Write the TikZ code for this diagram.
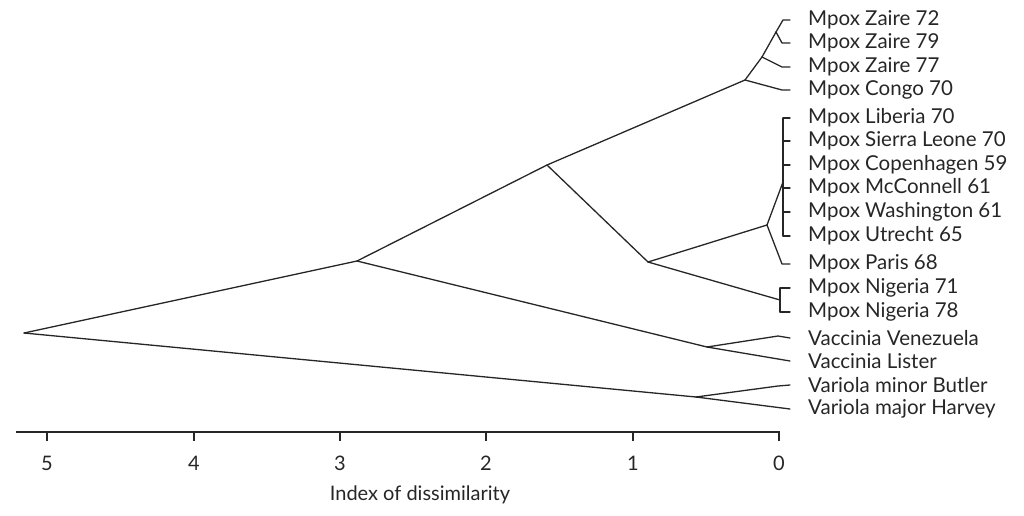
\documentclass[tikz,border=0pt]{standalone}
\usepackage{fontspec}
\setmainfont{Lato}
\begin{document}
\begin{tikzpicture}[x=1pt,y=-1pt,
  br/.style={line width=1.3pt, draw=black!85, line join=round, line cap=round},
  leaf/.style={anchor=west, font=\fontsize{20.5}{22}\selectfont, inner sep=0pt, text=black!85},
  ticklab/.style={font=\fontsize{20}{22}\selectfont, text=black!85, inner sep=0pt}]
\useasboundingbox (0,0) rectangle (1024,515);
% leaves
\foreach \n/\y/\t in {1/20/Mpox Zaire 72, 2/43/Mpox Zaire 79, 3/67/Mpox Zaire 77, 4/90/Mpox Congo 70,
  5/118/Mpox Liberia 70, 6/141/Mpox Sierra Leone 70, 7/165/Mpox Copenhagen 59, 8/188/Mpox McConnell 61,
  9/212/Mpox Washington 61, 10/236/Mpox Utrecht 65, 11/264/Mpox Paris 68, 12/288/Mpox Nigeria 71,
  13/312/Mpox Nigeria 78, 14/338/Vaccinia Venezuela, 15/361/Vaccinia Lister, 16/385/Variola minor Butler,
  17/409/Variola major Harvey}{
  \node[leaf] (l\n) at (808,\y) {\t};
  \coordinate (e\n) at (790,\y);
  \coordinate (k\n) at (782,\y);
}
% branch points
\coordinate (root) at (24,333);
\coordinate (A) at (357,261);
\coordinate (V) at (696,397);
\coordinate (M) at (547,165);
\coordinate (Vc) at (707,347);
\coordinate (Z) at (745,80);
\coordinate (W) at (648,262);
\coordinate (Z2) at (762,57);
\coordinate (Z3) at (776,32);
\coordinate (WA) at (767,225);
\coordinate (Bt) at (783,118);
\coordinate (Bb) at (783,236);
\coordinate (Bj) at (783,182);
\coordinate (Nt) at (780,288);
\coordinate (Nb) at (780,312);
\coordinate (Nj) at (780,300);
% tree
\draw[br] (root) -- (A);
\draw[br] (root) -- (V);
\draw[br] (A) -- (M);
\draw[br] (A) -- (Vc);
\draw[br] (M) -- (Z);
\draw[br] (M) -- (W);
\draw[br] (Z) -- (Z2);
\draw[br] (Z) -- (k4) -- (e4);
\draw[br] (Z2) -- (Z3);
\draw[br] (Z2) -- (k3) -- (e3);
\draw[br] (Z3) -- (k2) -- (e2);
\draw[br] (Z3) -- (783,20) -- (e1);
\draw[br] (W) -- (WA);
\draw[br] (WA) -- (Bj);
\draw[br] (WA) -- (k11) -- (e11);
\draw[br] (Bt) -- (Bb);
\foreach \i in {5,...,10} { \draw[br] (Bt |- e\i) -- (e\i); }
\draw[br] (W) -- (Nj);
\draw[br] (Nt) -- (Nb);
\draw[br] (Nt) -- (e12);
\draw[br] (Nb) -- (e13);
\draw[br] (Vc) -- (778,336) -- (e14);
\draw[br] (Vc) -- (e15);
\draw[br] (V) -- (778,386) -- (e16);
\draw[br] (V) -- (e17);
% axis
\draw[line width=1.8pt, draw=black!85] (16,432) -- (780,432);
\foreach \v/\x in {5/47,4/194,3/340,2/486,1/633,0/779}{
  \draw[line width=1.2pt, draw=black!85] (\x,432) -- (\x,441);
  \node[ticklab] (t\v) at (\x,463) {\v};
}
\node[ticklab] (title) at (420,495) {Index of dissimilarity};
\end{tikzpicture}
\end{document}
